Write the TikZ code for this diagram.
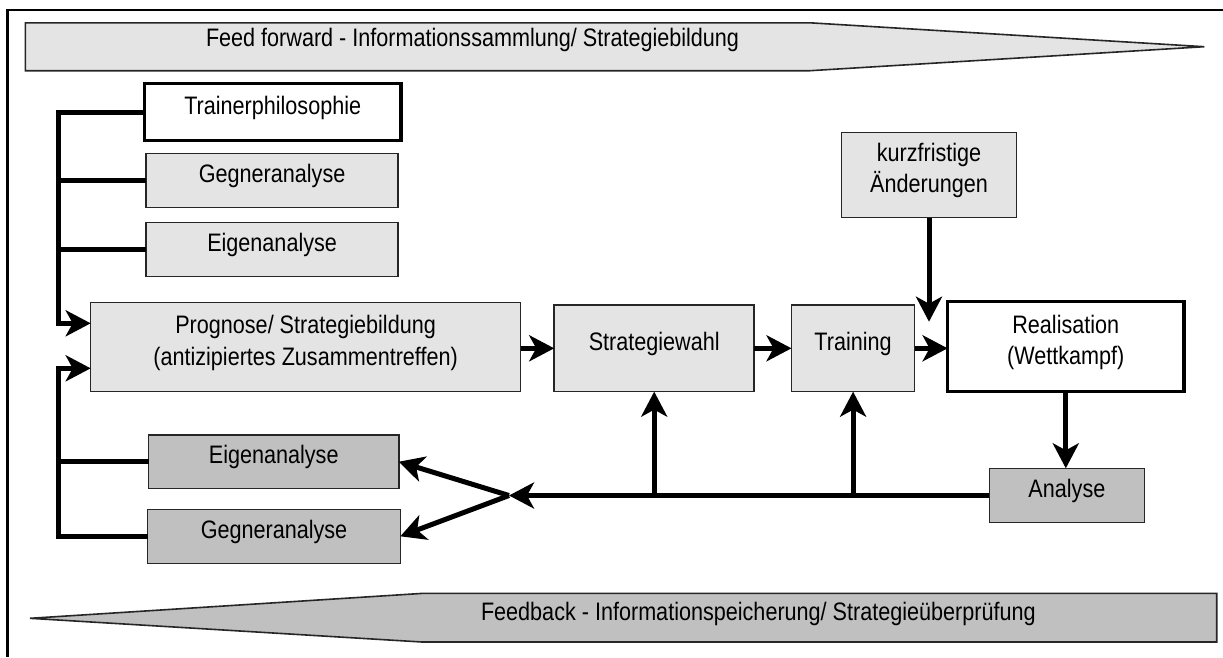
\documentclass[tikz,border=0pt]{standalone}
\usepackage{fontspec}
\setmainfont{Liberation Sans}
\usepackage{graphicx}
\usetikzlibrary{arrows.meta}
\definecolor{lgray}{HTML}{E4E4E4}
\definecolor{dgray}{HTML}{C0C0C0}
\definecolor{edge}{HTML}{262626}
\newcommand\st[1]{\scalebox{1}[1.17]{#1}}
\newcommand\onel[1]{\rule[-14pt]{0pt}{32pt}\st{#1}}
\newcommand\twol[2]{\vbox{\baselineskip=31.5pt\lineskiplimit=-100pt\lineskip=0pt\halign{\hfil##\hfil\cr\rule{0pt}{18pt}\st{#1}\cr\rule[-14pt]{0pt}{14pt}\st{#2}\cr}}}
\tikzset{
  txt/.style={inner sep=0pt, outer sep=0pt, font=\fontsize{21.6pt}{26pt}\selectfont},
  box/.style={txt, draw=edge, line width=1.5pt},
  lbox/.style={box, fill=lgray},
  dbox/.style={box, fill=dgray},
  wbox/.style={box, fill=white, draw=black, line width=3.5pt},
  conn/.style={line width=5pt},
  arr/.style={conn, -{Stealth[length=25pt,width=26pt,inset=7pt]}},
  banner/.style={draw=edge, line width=1.6pt, line join=miter}
}
\begin{document}
\begin{tikzpicture}[x=1pt,y=-1pt]
\useasboundingbox (0,0) rectangle (1223,657);
% outer frame
\draw[line width=2.5pt] (1223,10) -- (7.7,10) -- (7.7,657);
% banners
\draw[banner, fill=lgray] (25.3,22.8) -- (810,22.8) -- (1204.3,46.7) -- (810,70.7) -- (25.3,70.7) -- cycle;
\node[txt, anchor=base west] (fft) at (206,46.7) {\st{Feed forward - Informationssammlung/ Strategiebildung}};
\draw[banner, fill=dgray] (1216.7,593.4) -- (422,593.4) -- (30,618.3) -- (422,642) -- (1216.7,642) -- cycle;
\node[txt, anchor=base west] (fbt) at (481,620) {\st{Feedback - Informationspeicherung/ Strategieüberprüfung}};
% boxes
\node[wbox, minimum width=256.8pt, minimum height=57.4pt] (tp) at (272.7,112) {\onel{Trainerphilosophie}};
\node[lbox, minimum width=251.8pt, minimum height=54pt] (g1) at (272.1,180.3) {\onel{Gegneranalyse}};
\node[lbox, minimum width=251.8pt, minimum height=54pt] (e1) at (272.1,249.7) {\onel{Eigenanalyse}};
\node[lbox, minimum width=429.8pt, minimum height=89pt] (prog) at (305.6,347.2) {\twol{Prognose/ Strategiebildung}{(antizipiertes Zusammentreffen)}};
\node[lbox, minimum width=200pt, minimum height=86.7pt] (sw) at (654.2,348.3) {\onel{Strategiewahl}};
\node[lbox, minimum width=123.2pt, minimum height=86.7pt] (tr) at (853.1,348.3) {\onel{Training}};
\node[wbox, minimum width=236.4pt, minimum height=90pt] (re) at (1065.8,346.7) {\twol{Realisation}{(Wettkampf)}};
\node[lbox, minimum width=174.8pt, minimum height=85.4pt] (kf) at (929,175) {\twol{kurzfristige}{Änderungen}};
\node[dbox, minimum width=154.9pt, minimum height=54.4pt] (an) at (1066.9,495.5) {\onel{Analyse}};
\node[dbox, minimum width=250.3pt, minimum height=53.3pt] (e2) at (273.7,461.7) {\onel{Eigenanalyse}};
\node[dbox, minimum width=252.6pt, minimum height=54pt] (g2) at (274,536.3) {\onel{Gegneranalyse}};
% coordinates
\coordinate (bend1) at (58,323.3);
\coordinate (bend2) at (58,368.3);
\coordinate (jn) at (509,495.5);
\coordinate (kfe) at (929,321.7);
% connectors
\draw[conn] (g1.west) -- (g1.west -| bend1);
\draw[conn] (e1.west) -- (e1.west -| bend1);
\draw[arr] (tp.west) -| (bend1) -- (prog.west |- bend1);
\draw[conn] (e2.west) -- (e2.west -| bend2);
\draw[arr] (g2.west) -| (bend2) -- (prog.west |- bend2);
\draw[arr] (prog.east |- sw.west) -- (sw.west);
\draw[arr] (sw.east) -- (tr.west);
\draw[arr] (tr.east) -- (tr.east -| re.west);
\draw[arr] (kf.south) -- (kfe);
\draw[arr] (re.south) -- (re.south |- an.north);
\draw[arr] (an.west) -- (jn);
\draw[arr] (sw.south |- jn) -- (sw.south);
\draw[arr] (tr.south |- jn) -- (tr.south);
\draw[arr] (jn) -- (e2.east);
\draw[arr] (jn) -- (g2.east);
\end{tikzpicture}
\end{document}
